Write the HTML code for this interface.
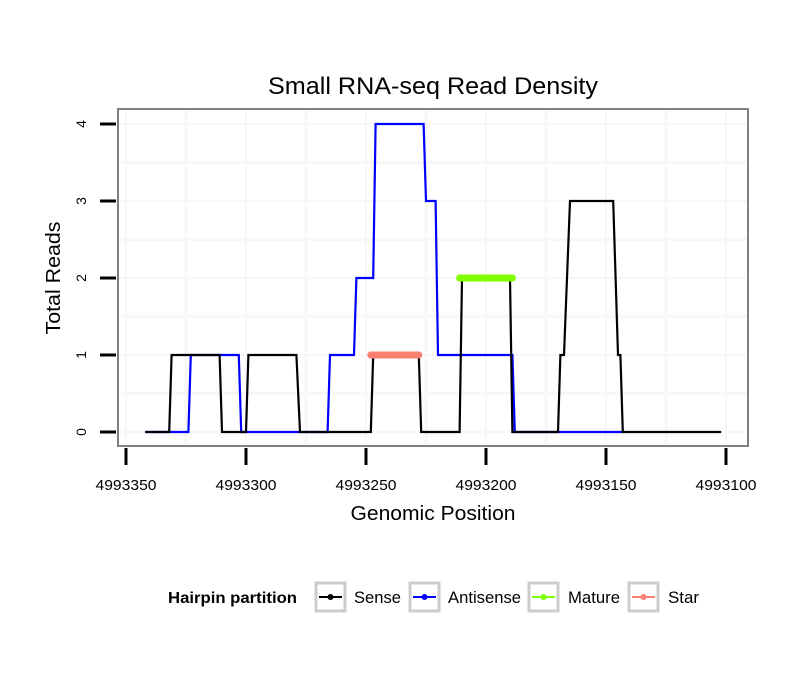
<!DOCTYPE html>
<html><head><meta charset="utf-8"><style>
body{margin:0;background:#fff;}
svg text{font-family:"Liberation Sans",sans-serif;}
</style></head><body>
<svg id="chart" width="810" height="690" xmlns="http://www.w3.org/2000/svg">
<rect x="0" y="0" width="810" height="690" fill="#fff"/>
<text x="433" y="94" font-size="24" text-anchor="middle" fill="#000" textLength="330" lengthAdjust="spacingAndGlyphs">Small RNA-seq Read Density</text>
<g id="grid"></g>
<g id="series"></g>
<rect x="118" y="109" width="630" height="337" fill="none" stroke="#808080" stroke-width="2"/>
<g id="axes"></g>
<text x="433" y="520" font-size="20" text-anchor="middle" textLength="165" lengthAdjust="spacingAndGlyphs">Genomic Position</text>
<text transform="translate(60,278) rotate(-90)" font-size="20" text-anchor="middle" textLength="113" lengthAdjust="spacingAndGlyphs">Total Reads</text>
<g>
<text x="168" y="603" font-size="16" font-weight="bold" textLength="129" lengthAdjust="spacingAndGlyphs">Hairpin partition</text>
<g><rect x="316" y="583" width="29" height="28" fill="#fff" stroke="#ccc" stroke-width="3"/><line x1="319" y1="597" x2="342" y2="597" stroke="#000" stroke-width="2"/><circle cx="330.5" cy="597" r="3" fill="#000"/><text x="354" y="603" font-size="16.5" textLength="47" lengthAdjust="spacingAndGlyphs">Sense</text></g>
<g><rect x="410" y="583" width="29" height="28" fill="#fff" stroke="#ccc" stroke-width="3"/><line x1="413" y1="597" x2="436" y2="597" stroke="#0000ff" stroke-width="2"/><circle cx="424.5" cy="597" r="3" fill="#0000ff"/><text x="448" y="603" font-size="16.5" textLength="73" lengthAdjust="spacingAndGlyphs">Antisense</text></g>
<g><rect x="529" y="583" width="29" height="28" fill="#fff" stroke="#ccc" stroke-width="3"/><line x1="532" y1="597" x2="555" y2="597" stroke="#7fff00" stroke-width="2"/><circle cx="543.5" cy="597" r="3" fill="#7fff00"/><text x="568" y="603" font-size="16.5" textLength="52" lengthAdjust="spacingAndGlyphs">Mature</text></g>
<g><rect x="629" y="583" width="29" height="28" fill="#fff" stroke="#ccc" stroke-width="3"/><line x1="632" y1="597" x2="655" y2="597" stroke="#fa8072" stroke-width="2"/><circle cx="643.5" cy="597" r="3" fill="#fa8072"/><text x="668" y="603" font-size="16.5" textLength="31" lengthAdjust="spacingAndGlyphs">Star</text></g>
</g>
</svg>
<script>
const xTicks=[4993350,4993300,4993250,4993200,4993150,4993100];
const yTicks=[0,1,2,3,4];
const senseX=[4993342,4993332,4993331,4993311,4993310,4993300,4993299,4993279,4993277.5,4993248,4993247,4993228,4993227,4993211,4993210,4993190,4993189,4993170,4993169,4993167.5,4993165,4993147,4993145,4993144,4993143,4993102];
const senseY=[0,0,1,1,0,0,1,1,0,0,1,1,0,0,2,2,0,0,1,1,3,3,1,1,0,0];
const antiX=[4993342,4993324,4993323,4993303,4993302,4993266,4993265,4993255,4993254,4993247,4993246,4993226,4993225,4993221,4993220,4993189,4993188,4993143];
const antiY=[0,0,1,1,0,0,1,1,2,2,4,4,3,3,1,1,0,0];
const matureX=[4993211,4993189];
const matureY=[2,2];
const starX=[4993248,4993228];
const starY=[1,1];
const NS="http://www.w3.org/2000/svg";
function xs(v){return 126+(4993350-v)*2.4;}
function ys(v){return 432-v*77;}
function mk(t,a,p){const e=document.createElementNS(NS,t);for(const k in a)e.setAttribute(k,a[k]);p.appendChild(e);return e;}
const grid=document.getElementById('grid'),ser=document.getElementById('series'),ax=document.getElementById('axes');
for(let i=0;i<xTicks.length;i++){
  const x=xs(xTicks[i]);
  const g=mk('line',{x1:x,x2:x,y1:110,y2:445,stroke:'#f7f7f7','stroke-width':2},grid);
  
  
  if(i<xTicks.length-1){const xm=xs((xTicks[i]+xTicks[i+1])/2);
    const m=mk('line',{x1:xm,x2:xm,y1:110,y2:445,stroke:'#f7f7f7','stroke-width':3},grid);
    
    }
  const t=mk('line',{x1:x,x2:x,y1:448,y2:465,stroke:'#000','stroke-width':3},ax);
  
  
  const l=mk('text',{x:x,y:490,'font-size':15,'text-anchor':'middle',textLength:61,lengthAdjust:'spacingAndGlyphs'},ax);l.textContent=xTicks[i];
  
  
}
for(let i=0;i<yTicks.length;i++){
  const y=ys(yTicks[i]);
  const g=mk('line',{x1:119,x2:747,y1:y,y2:y,stroke:'#f7f7f7','stroke-width':2},grid);
  
  
  if(i<yTicks.length-1){const ym=ys((yTicks[i]+yTicks[i+1])/2);
    const m=mk('line',{x1:119,x2:747,y1:ym,y2:ym,stroke:'#f7f7f7','stroke-width':3},grid);
    
    }
  const t=mk('line',{x1:100,x2:116,y1:y,y2:y,stroke:'#000','stroke-width':3},ax);
  
  
  const l=mk('text',{transform:`translate(86,${y}) rotate(-90)`,'font-size':14,'text-anchor':'middle'},ax);l.textContent=yTicks[i];
  
  
}
function path(X,Y,col,w,name,cap){
  const d=X.map((v,i)=>(i?'L':'M')+xs(v)+','+ys(Y[i])).join(' ');
  const p=mk('path',{d:d,fill:'none',stroke:col,'stroke-width':w,'stroke-linecap':cap||'butt','stroke-linejoin':'miter'},ser);
  
  
}
path(antiX,antiY,'#0000ff',2.2,'antisense-line');
path(senseX,senseY,'#000',2.2,'sense-line');
path(matureX,matureY,'#7fff00',7,'mature-segment','round');
path(starX,starY,'#fa8072',7,'star-segment','round');
</script>
</body></html>
